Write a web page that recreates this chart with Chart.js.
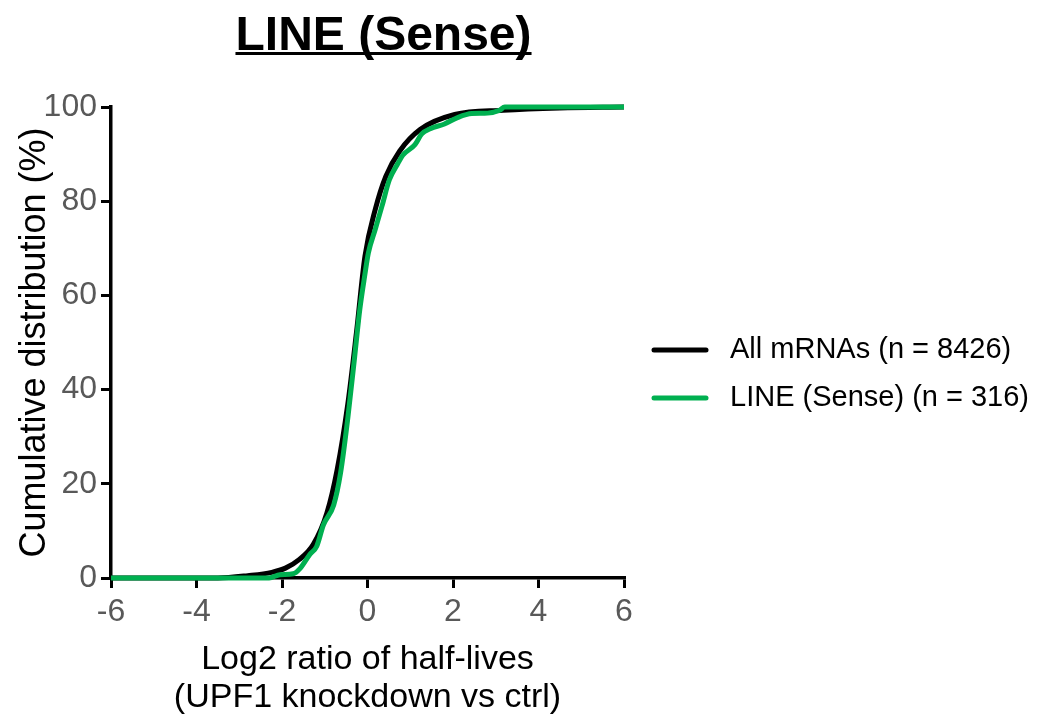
<!DOCTYPE html>
<html>
<head>
<meta charset="utf-8">
<script src="https://cdn.jsdelivr.net/npm/chart.js@4.4.1/dist/chart.umd.min.js"></script>
<style>
  html, body { margin: 0; padding: 0; background: #fff; }
  #wrap { width: 1050px; height: 725px; }
</style>
</head>
<body>
<div id="wrap"><canvas id="myChart" width="1050" height="725"></canvas></div>
<script>
// cumulative distributions
const allX = [-6, -3.5, -2.8, -2.24, -1.92, -1.6, -1.27, -0.95, -0.71, -0.46, -0.26, -0.06, 0.18, 0.43, 0.75, 1.23, 2.04, 3.17, 4.5, 6];
const allY = [0, 0, 0.5, 1.2, 2.1, 3.9, 7.1, 13.8, 23, 37, 52, 68.3, 78.2, 85.3, 90.6, 95.2, 98.4, 99.3, 99.8, 100];

const lineX = [-6, -2.3, -2.05, -1.74, -1.58, -1.35, -1.19, -1.03, -0.79, -0.63, -0.46, -0.3, -0.18, -0.06, 0.02, 0.18, 0.34, 0.51, 0.71, 0.83, 1.11, 1.27, 1.47, 1.8, 2.12, 2.44, 2.81, 3.09, 3.21, 6];
const lineY = [0, 0, 0.7, 0.9, 2.0, 5, 6.7, 11.3, 15.5, 22.3, 34, 47, 57, 64.5, 69, 74, 79, 84.5, 88, 89.8, 92, 94.3, 95.4, 96.4, 97.8, 98.6, 98.7, 99.3, 100, 100];

const xTicks = [-6, -4, -2, 0, 2, 4, 6];
const yTicks = [0, 20, 40, 60, 80, 100];
const seriesNames = ["All mRNAs (n = 8426)", "LINE (Sense) (n = 316)"];
const chartTitle = "LINE (Sense)";

const FONT = "Arial, 'Liberation Sans', sans-serif";
const GREEN = "#00b050";

const pts = (xs, ys) => xs.map((x, i) => ({ x: x, y: ys[i] }));

// title with underline + legend on the right
const extras = {
  id: "extras",
  afterDraw(chart) {
    const ctx = chart.ctx;
    ctx.save();
    ctx.fillStyle = "#000";
    ctx.font = "bold 48px " + FONT;
    ctx.textAlign = "center";
    ctx.textBaseline = "alphabetic";
    const cx = 383.5;
    ctx.fillText(chartTitle, cx, 50);
    const w = ctx.measureText(chartTitle).width;
    ctx.fillRect(cx - w / 2, 52, w, 3);

    ctx.font = "29px " + FONT;
    ctx.textAlign = "left";
    ctx.textBaseline = "middle";
    chart.data.datasets.forEach((ds, i) => {
      const y = 350 + i * 48;
      ctx.strokeStyle = ds.borderColor;
      ctx.lineWidth = 5;
      ctx.lineCap = "round";
      ctx.beginPath();
      ctx.moveTo(654, y);
      ctx.lineTo(706, y);
      ctx.stroke();
      ctx.fillStyle = "#000";
      ctx.fillText(ds.label, 730, y);
    });
    ctx.restore();
  }
};

new Chart(document.getElementById("myChart"), {
  type: "line",
  data: {
    datasets: [
      {
        label: seriesNames[0],
        data: pts(allX, allY),
        borderColor: "#000",
        backgroundColor: "#000",
        borderWidth: 5,
        pointRadius: 0,
        cubicInterpolationMode: "monotone",
        clip: false,
        order: 1
      },
      {
        label: seriesNames[1],
        data: pts(lineX, lineY),
        borderColor: GREEN,
        backgroundColor: GREEN,
        borderWidth: 5,
        pointRadius: 0,
        cubicInterpolationMode: "monotone",
        clip: false,
        order: 0
      }
    ]
  },
  options: {
    responsive: false,
    devicePixelRatio: 1,
    animation: false,
    layout: { padding: { top: 107, right: 426, left: 0, bottom: 0 } },
    plugins: {
      legend: { display: false },
      tooltip: { enabled: false }
    },
    scales: {
      x: {
        type: "linear",
        min: -6,
        max: 6,
        afterBuildTicks: s => { s.ticks = xTicks.map(v => ({ value: v })); },
        afterFit: s => { s.height = 147; },
        grid: { display: true, drawOnChartArea: false, drawTicks: true, tickLength: 10, color: "#000", lineWidth: 3 },
        border: { display: true, color: "#000", width: 3.5 },
        ticks: { color: "#595959", font: { family: FONT, size: 32 }, padding: 5 },
        title: {
          display: true,
          text: ["Log2 ratio of half-lives", "(UPF1 knockdown vs ctrl)"],
          color: "#000",
          font: { family: FONT, size: 34, lineHeight: 1.12 },
          padding: { top: 0, bottom: 8 }
        }
      },
      y: {
        type: "linear",
        min: 0,
        max: 100,
        afterBuildTicks: s => { s.ticks = yTicks.map(v => ({ value: v })); },
        afterFit: s => { s.width = 111; },
        grid: { display: true, drawOnChartArea: false, drawTicks: true, tickLength: 10, color: "#000", lineWidth: 3 },
        border: { display: true, color: "#000", width: 3.5 },
        ticks: { color: "#595959", font: { family: FONT, size: 32 }, padding: 4 },
        title: {
          display: true,
          text: "Cumulative distribution (%)",
          color: "#000",
          font: { family: FONT, size: 36, lineHeight: 1.1 },
          padding: { top: 15, bottom: 0 }
        }
      }
    }
  },
  plugins: [extras]
});
</script>
</body>
</html>
